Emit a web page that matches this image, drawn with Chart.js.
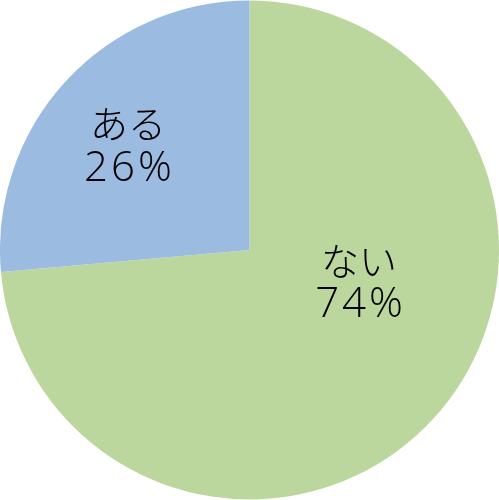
<!DOCTYPE html>
<html>
<head>
<meta charset="utf-8">
<script src="https://cdn.jsdelivr.net/npm/chart.js@4/dist/chart.umd.min.js"></script>
<style>
  html, body { margin: 0; padding: 0; background: #fff; }
  #wrap { width: 499px; height: 500px; }
</style>
</head>
<body>
<div id="wrap"><canvas id="grafico" width="499" height="500"></canvas></div>
<script>
// dados do gráfico
const categorias = ['ない', 'ある'];
const valores = [73.6, 26.4];
const porcentagens = ['74%', '26%'];
const cores = ['#bcd79e', '#9bbbe1'];

// posição dos rótulos dentro de cada fatia (fração do ângulo e do raio)
const rotuloAngulo = [0.402, 0.48];
const rotuloRaio = [0.458, 0.641];

const rotulos = {
    id: 'rotulos',
    afterDatasetsDraw(chart) {
        const ctx = chart.ctx;
        const meta = chart.getDatasetMeta(0);
        ctx.save();
        ctx.fillStyle = '#000';
        ctx.textAlign = 'center';
        ctx.textBaseline = 'middle';
        meta.data.forEach(function(arc, i) {
            const a = arc.startAngle + (arc.endAngle - arc.startAngle) * rotuloAngulo[i];
            const r = arc.outerRadius * rotuloRaio[i];
            const x = arc.x + Math.cos(a) * r;
            const y = arc.y + Math.sin(a) * r;
            ctx.letterSpacing = '0px';
            ctx.font = '300 38px "Noto Sans CJK JP", sans-serif';
            ctx.fillText(categorias[i], x, y - 22);
            ctx.letterSpacing = '3px';
            ctx.font = '300 42px "Open Sans", sans-serif';
            ctx.fillText(porcentagens[i], x + 1.5, y + 23);
        });
        ctx.restore();
    }
};

new Chart(document.getElementById('grafico').getContext('2d'), {
    type: 'pie',
    data: {
        labels: categorias,
        datasets: [{
            data: valores,
            backgroundColor: cores,
            borderWidth: 0
        }]
    },
    options: {
        responsive: false,
        animation: false,
        layout: { padding: 0 },
        plugins: {
            legend: { display: false },
            tooltip: { enabled: false }
        }
    },
    plugins: [rotulos]
});
</script>
</body>
</html>
